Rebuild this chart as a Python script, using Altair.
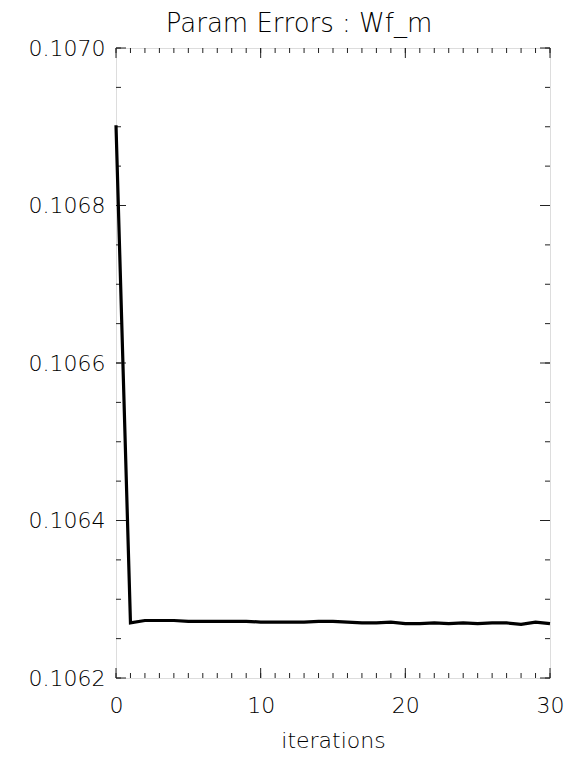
import altair as alt
import pandas as pd

iterations = list(range(31))
errors = [0.106902, 0.106270, 0.106273, 0.106273, 0.106273, 0.106272, 0.106272,
          0.106272, 0.106272, 0.106272, 0.106271, 0.106271, 0.106271, 0.106271,
          0.106272, 0.106272, 0.106271, 0.106270, 0.106270, 0.106271, 0.106269,
          0.106269, 0.106270, 0.106269, 0.106270, 0.106269, 0.106270, 0.106270,
          0.106268, 0.106271, 0.106269]

x_major = [0, 10, 20, 30]
x_minor = list(range(31))
y_major = [0.1062, 0.1064, 0.1066, 0.1068, 0.1070]
y_minor = [round(0.1062 + i * 0.00005, 6) for i in range(17)]

W, H = 434, 630
FONT = "DejaVu Sans"

df = pd.DataFrame({"it": iterations, "err": errors})
xscale = alt.Scale(domain=[0, 30], nice=False, zero=False)
yscale = alt.Scale(domain=[0.1062, 0.1070], nice=False, zero=False)

line = alt.Chart(df).mark_line(color="black", strokeWidth=3.2).encode(
    x=alt.X("it:Q", scale=xscale,
            axis=alt.Axis(values=x_major, format="d", ticks=False, domain=False, grid=False,
                          labelFont=FONT, labelFontSize=22, labelColor="black",
                          labelPadding=17, labelFontWeight=200, labelFlush=False,
                          title="iterations", titleFont=FONT, titleFontSize=22,
                          titleFontWeight=200, titleColor="black", titlePadding=14)),
    y=alt.Y("err:Q", scale=yscale,
            axis=alt.Axis(values=y_major, format=".4f", ticks=False, domain=False, grid=False,
                          labelFont=FONT, labelFontSize=22, labelColor="black",
                          labelPadding=11, labelFontWeight=200, labelFlush=False,
                          title=None)),
)

def xticks(vals, length):
    d = pd.DataFrame({"v": vals})
    bot = alt.Chart(d).mark_rule(color="#222", strokeWidth=1).encode(
        x=alt.X("v:Q", scale=xscale), y=alt.value(H), y2=alt.value(H - length))
    top = alt.Chart(d).mark_rule(color="#222", strokeWidth=1).encode(
        x=alt.X("v:Q", scale=xscale), y=alt.value(0), y2=alt.value(length))
    return [bot, top]

def yticks(vals, length):
    d = pd.DataFrame({"v": vals})
    left = alt.Chart(d).mark_rule(color="#222", strokeWidth=1).encode(
        y=alt.Y("v:Q", scale=yscale), x=alt.value(0), x2=alt.value(length))
    right = alt.Chart(d).mark_rule(color="#222", strokeWidth=1).encode(
        y=alt.Y("v:Q", scale=yscale), x=alt.value(W), x2=alt.value(W - length))
    return [left, right]

layers = xticks(x_minor, 5) + xticks(x_major, 10) + yticks(y_minor, 5) + yticks(y_major, 10) + [line]

chart = alt.layer(*layers).properties(
    width=W, height=H,
    title=alt.TitleParams("Param Errors : Wf_m", font=FONT, fontSize=26, fontWeight=200,
                          color="black", anchor="middle", dx=-34, offset=0),
    autosize=alt.AutoSizeParams(type="none"),
    padding={"left": 108, "top": 40, "right": 15, "bottom": 74},
).configure_view(stroke="black", strokeWidth=1.2).configure(background="white")

chart.save("out.html", embed_options={"renderer": "svg", "actions": False})
